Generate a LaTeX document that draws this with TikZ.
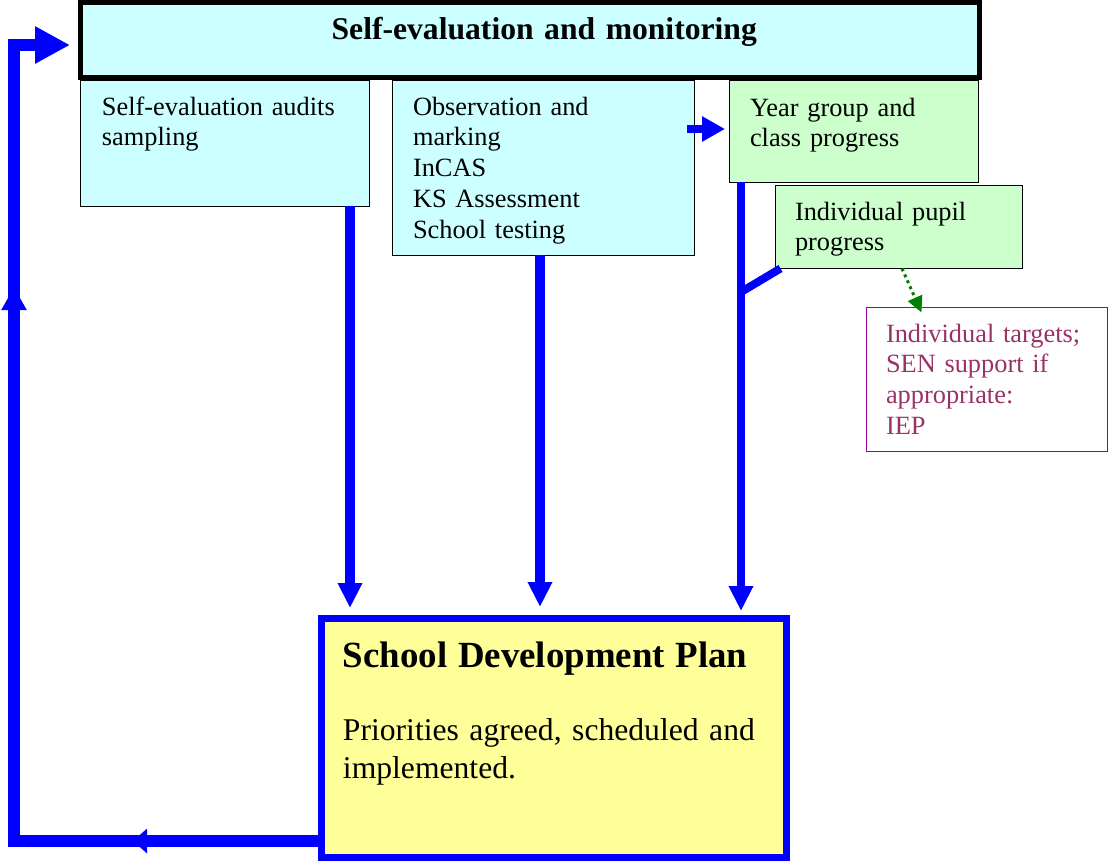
\documentclass[tikz,border=0pt]{standalone}
\usepackage{fontspec}
\setmainfont{Liberation Serif}
\usetikzlibrary{arrows.meta,calc,decorations.markings}

\definecolor{flowblue}{HTML}{0000FF}
\definecolor{evalcyan}{HTML}{CCFFFF}
\definecolor{progressgreen}{HTML}{CCFFCC}
\definecolor{planyellow}{HTML}{FFFF99}
\definecolor{targetpurple}{HTML}{990099}
\definecolor{targettext}{HTML}{993366}
\definecolor{notegreen}{HTML}{008000}

\tikzset{
  panel/.style={draw, line width=0.03cm, anchor=north west, inner ysep=0pt, outer sep=0pt,
    align=left, font=\fontsize{15}{17.6}\selectfont},
  flow/.style={draw=flowblue, line width=0.2cm, -{Triangle[length=0.5cm,width=0.46cm]}},
}

\begin{document}
\begin{tikzpicture}[x=0.02cm, y=-0.02cm]
\useasboundingbox (0,0) rectangle (1109,863);

% boxes under the heading
\node[panel, fill=evalcyan, inner xsep=0.43cm, text width=4.92cm, text height=0.7cm, text depth=1.83cm]
  (audits) at (80.5,80) {Self-evaluation audits\\sampling};
\node[panel, fill=evalcyan, inner xsep=0.41cm, text width=5.22cm, text height=0.7cm, text depth=2.81cm]
  (obs) at (392.5,80) {Observation and\\marking\\InCAS\\KS Assessment\\School testing};
\node[panel, fill=progressgreen, inner xsep=0.41cm, text width=4.16cm, text height=0.72cm, text depth=1.33cm]
  (year) at (729.5,80) {Year group and\\class progress};
\node[panel, fill=progressgreen, inner xsep=0.39cm, text width=4.16cm, text height=0.69cm, text depth=0.97cm]
  (pupil) at (775.5,185.5) {Individual pupil\\progress};
\node[panel, draw=targetpurple, text=targettext, inner xsep=0.39cm, text width=4.04cm, text height=0.69cm, text depth=2.19cm]
  (targets) at (866.5,307.5) {Individual targets;\\SEN support if\\appropriate:\\IEP};

% heading
\node[panel, fill=evalcyan, line width=0.1cm, inner xsep=4.45cm, align=right, text width=9.08cm,
  text height=0.75cm, text depth=0.75cm, font=\fontsize{18}{21.6}\selectfont\bfseries]
  (sev) at (80.5,2.5) {Self-evaluation and monitoring};

% plan
\node[panel, draw=flowblue, fill=planyellow, line width=0.14cm, inner xsep=0.43cm, text width=8.44cm,
  text height=0.97cm, text depth=3.81cm, font=\fontsize{18}{21.6}\selectfont]
  (sdp) at (321.5,618.5) {{\fontsize{21}{21.6}\selectfont\bfseries School Development Plan}\\[20.5pt]
  Priorities agreed, scheduled and\\implemented.};

% arrows into the plan
\coordinate (in1) at (350,608);
\coordinate (in2) at (540,607);
\coordinate (in3) at (741,611);
\draw[flow] (audits.south -| in1) -- (in1);
\draw[flow] (obs.south -| in2) -- (in2);
\draw[flow, line width=0.16cm] (year.south -| in3) -- (in3);
\draw[flowblue, line width=0.16cm] ($(pupil.south west)+(5,0)$) -- (in3 |- 0,292);

% obs -> year
\draw[flowblue, line width=0.16cm, -{Triangle[length=0.46cm,width=0.48cm]}, shorten >=0.09cm]
  ($(obs.east |- 0,129)+(-7,0)$) -- (year.west |- 0,129);

% pupil -> targets
\draw[notegreen, line width=0.06cm, dotted, -{Triangle[length=0.32cm,width=0.3cm]}]
  ($(pupil.south)+(3,0)$) -- ($(targets.north west)+(55,5)$);

% back round to the heading
\draw[flowblue, line width=0.24cm, -{Triangle[length=0.7cm,width=0.7cm]},
  postaction={decorate, decoration={markings,
    mark=at position 3.77cm with {\arrow{Triangle[length=0.28cm,width=0.48cm]}},
    mark=at position 17.23cm with {\arrow{Triangle[length=0.46cm,width=0.48cm]}}}}]
  (sdp.west |- 0,841) -| (14,45) -- ($(sev.west |- 0,45)+(-10.5,0)$);
\end{tikzpicture}
\end{document}
